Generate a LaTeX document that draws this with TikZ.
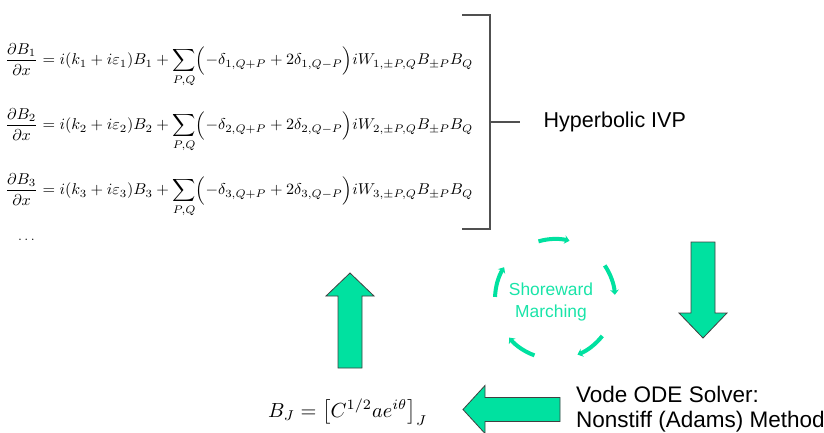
\documentclass[tikz,border=0pt]{standalone}
\usepackage{graphicx}
\usepackage{amsmath}
\usepackage{fontspec}
\newfontfamily\arial{Liberation Sans}
\usetikzlibrary{arrows.meta,calc}
\definecolor{agreen}{RGB}{0,225,160}
\definecolor{tgreen}{RGB}{25,228,168}
\definecolor{aoutline}{RGB}{64,64,64}
\definecolor{bgray}{RGB}{80,80,80}
\newcommand\eqrow[1]{\displaystyle\frac{\partial B_{#1}}{\partial x} = i(k_{#1}+i\varepsilon_{#1})B_{#1} + \sum_{P,Q}\Bigl(-\delta_{#1,Q+P}+2\delta_{#1,Q-P}\Bigr)iW_{#1,\pm P,Q}B_{\pm P}B_Q}
\begin{document}
\begin{tikzpicture}[x=1pt,y=-1pt,
  eqn/.style={anchor=north west,inner sep=0pt},
  lbl/.style={anchor=base west,inner sep=0pt},
  blockarrow/.style={fill=agreen,draw=aoutline,line width=0.8pt,line join=miter},
  bracketline/.style={draw=bgray,line width=1.3pt},
  cyclearrow/.style={draw=agreen,line width=4pt,-{Stealth[length=5pt,width=8.5pt,inset=1.5pt]}}]
\useasboundingbox (0,0) rectangle (824,432);
% equations
\node[eqn] (eq1) at (5,43) {\resizebox*{468pt}{44pt}{$\eqrow{1}$}};
\node[eqn] (eq2) at (5,108) {\resizebox*{468pt}{44pt}{$\eqrow{2}$}};
\node[eqn] (eq3) at (5,173) {\resizebox*{468pt}{44pt}{$\eqrow{3}$}};
\node[lbl] (dots) at (18,240) {\fontsize{15}{18}\selectfont$\dots$};
% bracket
\coordinate (bt) at (462,15);
\coordinate (btr) at (490,15);
\coordinate (bbr) at (490,229);
\coordinate (bb) at (462,229);
\coordinate (bmid) at (490,122);
\coordinate (bend) at (520,122);
\draw[bracketline] (bt) -- (btr) -- (bbr) -- (bb);
\draw[bracketline] (bmid) -- (bend);
\node[lbl,font=\arial\fontsize{21.5}{24}\selectfont] (hyp) at (543.5,127.5) {Hyperbolic IVP};
% cycle
\coordinate (c) at (555,299);
\foreach \k in {0,...,4}{
  \pgfmathsetmacro\sa{106-72*\k}
  \pgfmathsetmacro\ea{76-72*\k}
  \draw[cyclearrow] ($(c)+(\sa:60pt)$) arc[start angle=\sa,end angle=\ea,radius=60pt];
}
\node[font=\arial\fontsize{17.4}{22}\selectfont,text=tgreen,align=center,inner sep=0pt] (shore) at (551,302) {Shoreward\\Marching};
% block arrows
\draw[blockarrow] (338,368) -- (338,296) -- (326,296) -- (350,273) -- (374,296) -- (362,296) -- (362,368) -- cycle;
\draw[blockarrow] (691,242) -- (691,313) -- (679,313) -- (703,338) -- (727,313) -- (715,313) -- (715,242) -- cycle;
\draw[blockarrow] (560,397.5) -- (485,397.5) -- (485,385.5) -- (463,409.5) -- (485,433.5) -- (485,421.5) -- (560,421.5) -- cycle;
% bottom texts
\node[lbl] (bj) at (268,417) {\resizebox{159pt}{!}{$B_J = \bigl[C^{1/2}ae^{i\theta}\bigr]_J$}};
\node[font=\arial\fontsize{22.5}{25}\selectfont,align=left,anchor=base west,inner sep=0pt] (vode) at (576,427) {Vode ODE Solver:\\Nonstiff (Adams) Method};
\end{tikzpicture}
\end{document}
